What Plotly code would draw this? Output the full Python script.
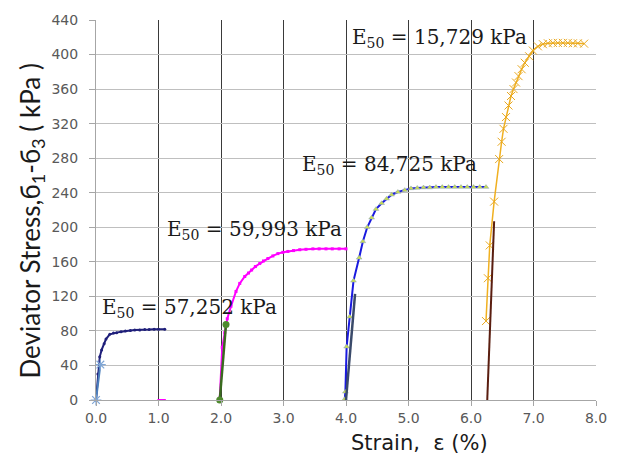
import plotly.graph_objects as go

# Curve 1 (navy)
c1_x = [0.0, 0.03, 0.06, 0.09, 0.13, 0.16, 0.22, 0.28, 0.33, 0.40, 0.47, 0.55, 0.62, 0.70, 0.78, 0.85, 0.93, 1.00, 1.10]
c1_y = [0, 30, 50, 58, 65, 70.5, 76, 77.5, 78, 79, 80, 80.5, 81, 81, 81.5, 81.5, 82, 82, 82]
s1_x = [0.0, 0.07]
s1_y = [0, 41]

# Stray magenta point
m0_x = [1.05]
m0_y = [0]

# Curve 2 (magenta)
c2_x = [1.98, 2.02, 2.06, 2.10, 2.16, 2.24, 2.30, 2.38, 2.44, 2.49, 2.55, 2.62, 2.68, 2.75, 2.83, 2.91, 2.99, 3.07, 3.16, 3.26, 3.36, 3.47, 3.57, 3.68, 3.78, 3.89, 4.00]
c2_y = [2, 61, 78, 94, 108.6, 125.7, 135, 143, 147, 150.5, 154.5, 158, 161, 163.8, 166.8, 169.5, 171, 172, 173, 174, 174.5, 175, 175, 175, 175, 175, 175]
s2_x = [1.98, 2.08]
s2_y = [0, 87.5]

# Curve 3 (blue)
c3_x = [3.98, 3.99, 4.01, 4.06, 4.12, 4.21, 4.27, 4.34, 4.41, 4.48, 4.57, 4.65, 4.73, 4.83, 4.94, 5.04, 5.14, 5.24, 5.34, 5.44, 5.54, 5.64, 5.74, 5.84, 5.94, 6.04, 6.14, 6.24]
c3_y = [1, 9.5, 61.7, 96.4, 138, 164.6, 183.6, 200, 211, 221, 227.8, 233, 237.7, 240.8, 243, 245, 245.5, 246, 246, 246.5, 246.5, 246.5, 246.5, 246.5, 246.5, 246.5, 246.5, 246.5]
s3_x = [4.0, 4.145]
s3_y = [0, 123]

# Curve 4 (gold)
c4_x = [6.24, 6.27, 6.30, 6.37, 6.45, 6.49, 6.52, 6.56, 6.60, 6.64, 6.68, 6.72, 6.76, 6.81, 6.86, 6.93, 6.99, 7.07, 7.15, 7.23, 7.31, 7.39, 7.47, 7.55, 7.63, 7.71, 7.81]
c4_y = [91.4, 141, 179, 229.7, 279, 299, 314, 327.6, 341, 352, 360, 367.6, 375, 383, 390.5, 398, 404.6, 409.5, 412, 413, 413.5, 413.5, 413.5, 413.5, 413, 413, 412.6]
s4_x = [6.26, 6.37]
s4_y = [0, 207]

x_ticks = [0, 1, 2, 3, 4, 5, 6, 7, 8]
y_ticks = [0, 40, 80, 120, 160, 200, 240, 280, 320, 360, 400, 440]

ann_text = ["57,252", "59,993", "84,725", "15,729"]
ann_x = [0.064, 1.10, 3.26, 4.06]
ann_y = [106, 196.6, 272, 419.4]

fig = go.Figure()

fig.add_trace(go.Scatter(x=m0_x, y=m0_y, mode="markers",
                         marker=dict(symbol="line-ew-open", size=6, color="#ff00ff", line=dict(width=2, color="#ff00ff")),
                         cliponaxis=False))
fig.add_trace(go.Scatter(x=c1_x, y=c1_y, mode="lines+markers",
                         line=dict(color="#1f1f7a", width=2),
                         marker=dict(symbol="circle", size=3, color="#1f1f7a"),
                         cliponaxis=False))
fig.add_trace(go.Scatter(x=s1_x, y=s1_y, mode="lines+markers",
                         line=dict(color="#4a7ebb", width=2),
                         marker=dict(symbol="asterisk-open", size=9, color="#7fa6d6", line=dict(width=1.2, color="#7fa6d6")),
                         cliponaxis=False))
fig.add_trace(go.Scatter(x=c2_x, y=c2_y, mode="lines+markers",
                         line=dict(color="#ff00ff", width=2),
                         marker=dict(symbol="square", size=3, color="#ff00ff"),
                         cliponaxis=False))
fig.add_trace(go.Scatter(x=s2_x, y=s2_y, mode="lines+markers",
                         line=dict(color="#3a6b1f", width=2.5),
                         marker=dict(symbol="circle", size=7, color="#4e8a2e"),
                         cliponaxis=False))
fig.add_trace(go.Scatter(x=c3_x, y=c3_y, mode="lines+markers",
                         line=dict(color="#1a1adf", width=2),
                         marker=dict(symbol="triangle-up", size=5, color="#c8dc50", line=dict(width=0.5, color="#8aa0c0")),
                         cliponaxis=False))
fig.add_trace(go.Scatter(x=s3_x, y=s3_y, mode="lines",
                         line=dict(color="#3a4a6a", width=2.5),
                         cliponaxis=False))
fig.add_trace(go.Scatter(x=c4_x, y=c4_y, mode="lines+markers",
                         line=dict(color="#f0b020", width=1.5),
                         marker=dict(symbol="x-thin-open", size=8, color="#e8a820", line=dict(width=1, color="#e8a820")),
                         cliponaxis=False))
fig.add_trace(go.Scatter(x=s4_x, y=s4_y, mode="lines",
                         line=dict(color="#5a1e10", width=2),
                         cliponaxis=False))

for t, ax, ay in zip(ann_text, ann_x, ann_y):
    fig.add_annotation(x=ax, y=ay, xref="x", yref="y", xanchor="left", yanchor="middle",
                       text="E<sub>50</sub> = " + t + " kPa", showarrow=False,
                       font=dict(family="DejaVu Serif", size=20, color="#1a1a1a"))

# Axis titles as annotations (positioned like the reference)
fig.add_annotation(x=(420 - 96) / 501, y=-(444 - 400) / 385, xref="x domain", yref="y domain",
                   showarrow=False, text="Strain,\u00a0\u00a0ε (%)", xanchor="center", yanchor="middle",
                   font=dict(family="DejaVu Sans", size=21, color="#1a1a1a"))
fig.add_annotation(x=-(96 - 31) / 501, y=(400 - 219) / 385, xref="x domain", yref="y domain",
                   showarrow=False, textangle=-90, xanchor="center", yanchor="middle",
                   text="Deviator Stress,б<sub>1</sub>-б<sub>3</sub> ( kPa )",
                   font=dict(family="Lato", size=26, color="#1a1a1a"))

fig.update_layout(
    width=619, height=461,
    margin=dict(l=96, r=22, t=15, b=61),
    paper_bgcolor="white", plot_bgcolor="white",
    showlegend=False,
    xaxis=dict(range=[0, 8], tickvals=x_ticks, tickformat=".1f",
               showgrid=True, gridcolor="#3a3a3a", gridwidth=1,
               showline=True, linecolor="#a6a6a6", linewidth=1,
               ticks="outside", ticklen=5, tickcolor="#a6a6a6",
               tickfont=dict(family="DejaVu Sans", size=14, color="#595959"),
               zeroline=False),
    yaxis=dict(range=[0, 440], tickvals=y_ticks,
               showgrid=True, gridcolor="#bfbfbf", gridwidth=1,
               showline=True, linecolor="#a6a6a6", linewidth=1,
               ticks="outside", ticklen=6, tickcolor="#a6a6a6",
               ticklabelstandoff=8,
               tickfont=dict(family="DejaVu Sans", size=14, color="#595959"),
               zeroline=False),
)

fig.write_html("out.html")
